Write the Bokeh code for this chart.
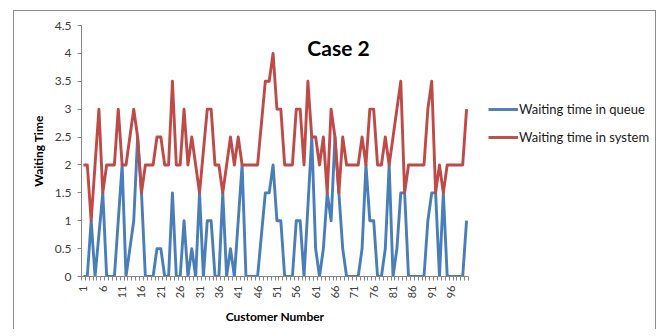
import math
from bokeh.plotting import figure
from bokeh.layouts import row
from bokeh.models import Range1d, FixedTicker, Legend, LegendItem, Label, ColumnDataSource
from bokeh.embed import file_html
from bokeh.resources import INLINE

# ---- data ----
customers = list(range(1, 101))
queue_time = [0, 0, 1, 0, 0.75, 1.5, 0, 0, 0, 1,
              2, 0, 0.5, 1, 2.5, 1.5, 0, 0, 0, 0.5,
              0.5, 0, 0, 1.5, 0, 0, 1, 0, 0.5, 0,
              1.5, 0, 1, 1, 0, 0, 1.5, 0, 0.5, 0,
              1, 2, 0, 0, 0, 0, 0.75, 1.5, 1.5, 2,
              1, 1, 0, 0, 0, 1, 1, 0, 1.25, 2.5,
              0.5, 0, 0.5, 1.5, 1, 2.5, 1.5, 0.5, 0, 0,
              0, 0, 0.5, 2, 1, 1, 0, 0, 0.5, 2,
              0, 0.5, 1.5, 1.5, 0, 0, 0, 0, 0, 1,
              1.5, 1.5, 0, 1.5, 0, 0, 0, 0, 0, 1]
system_time = [2, 2, 1, 2, 3, 1.5, 2, 2, 2, 3,
               2, 2, 2.5, 3, 2.5, 1.5, 2, 2, 2, 2.5,
               2.5, 2, 2, 3.5, 2, 2, 3, 2, 2.5, 2,
               1.5, 2.25, 3, 3, 2, 2, 1.5, 2, 2.5, 2,
               2.5, 2, 2, 2, 2, 2, 2.75, 3.5, 3.5, 4,
               3, 3, 2, 2, 2, 3, 3, 2, 3.5, 2.5,
               2.5, 2, 2.5, 1.5, 3, 2.5, 1.5, 2.5, 2, 2,
               2, 2, 2.5, 2, 3, 3, 2, 2, 2.5, 2,
               2.5, 3, 3.5, 1.5, 2, 2, 2, 2, 2, 3,
               3.5, 1.5, 2, 1.5, 2, 2, 2, 2, 2, 3]
x_tick_values = list(range(1, 101, 5))
x_tick_labels = [str(v) for v in x_tick_values]
y_tick_labels = ["0", "0.5", "1", "1.5", "2", "2.5", "3", "3.5", "4", "4.5"]
y_tick_values = [float(s) for s in y_tick_labels]
series_names = ["Waiting time in queue", "Waiting time in system"]
series_colors = ["#4A7EBB", "#BE4B48"]
title_text = "Case 2"
x_title = "Customer Number"
y_title = "Waiting Time"

FONT = "Lato"
AXIS_GRAY = "#868686"
LABEL_GRAY = "#404040"
H = 318

src = ColumnDataSource(dict(x=customers, q=queue_time, s=system_time))

p = figure(width=470, height=H, output_backend="svg", toolbar_location=None,
           x_range=Range1d(customers[0] - 0.5, customers[-1] + 0.5),
           y_range=Range1d(y_tick_values[0], y_tick_values[-1]),
           min_border_left=67, min_border_right=16, min_border_top=14, min_border_bottom=53)
p.outline_line_color = None
p.xgrid.visible = False
p.ygrid.visible = False
p.border_fill_color = "white"

line_kw = dict(line_width=2.9, line_join="round")
p.line("x", "q", source=src, line_color=series_colors[0], **line_kw)
p.line("x", "s", source=src, line_color=series_colors[1], **line_kw)

# x axis
boundaries = [c - 0.5 for c in customers] + [customers[-1] + 0.5]
p.xaxis.ticker = FixedTicker(ticks=x_tick_values, minor_ticks=boundaries)
p.xaxis.major_label_overrides = dict(zip(x_tick_values, x_tick_labels))
p.xaxis.major_label_orientation = math.pi / 2
p.xaxis.major_tick_line_color = None
p.xaxis.major_tick_out = 0
p.xaxis.major_tick_in = 0
p.xaxis.minor_tick_out = 4
p.xaxis.minor_tick_in = 0
p.xaxis.minor_tick_line_color = AXIS_GRAY
p.xaxis.axis_line_color = AXIS_GRAY
p.xaxis.major_label_standoff = 5
p.xaxis.major_label_text_font = FONT
p.xaxis.major_label_text_font_size = "11px"
p.xaxis.major_label_text_color = LABEL_GRAY
p.xaxis.axis_label = x_title
p.xaxis.axis_label_text_font = FONT
p.xaxis.axis_label_text_font_style = "bold"
p.xaxis.axis_label_text_font_size = "12px"
p.xaxis.axis_label_text_color = "black"
p.xaxis.axis_label_standoff = 8

# y axis
p.yaxis.ticker = FixedTicker(ticks=y_tick_values, minor_ticks=[])
p.yaxis.major_label_overrides = dict(zip(y_tick_values, y_tick_labels))
p.yaxis.major_tick_out = 4
p.yaxis.major_tick_in = 0
p.yaxis.major_tick_line_color = AXIS_GRAY
p.yaxis.minor_tick_line_color = None
p.yaxis.axis_line_color = AXIS_GRAY
p.yaxis.major_label_standoff = 6
p.yaxis.major_label_text_font = FONT
p.yaxis.major_label_text_font_size = "12px"
p.yaxis.major_label_text_color = LABEL_GRAY
p.yaxis.axis_label = y_title
p.yaxis.axis_label_text_font = FONT
p.yaxis.axis_label_text_font_style = "bold"
p.yaxis.axis_label_text_font_size = "12px"
p.yaxis.axis_label_text_color = "black"
p.yaxis.axis_label_standoff = 6

# chart title inside the chart area
p.add_layout(Label(x=257, y=229, x_units="screen", y_units="screen", text=title_text,
                   text_font=FONT, text_font_style="bold", text_font_size="21px",
                   text_align="center", text_baseline="alphabetic", text_color="black"))

# legend panel (separate figure; its lines lie outside its view, only the legend shows)
pl = figure(width=171, height=H, output_backend="svg", toolbar_location=None,
            x_axis_location=None, y_axis_location=None,
            x_range=Range1d(0, 1), y_range=Range1d(100, 101),
            min_border_left=0, min_border_right=0, min_border_top=0, min_border_bottom=0)
pl.outline_line_color = None
pl.xgrid.visible = False
pl.ygrid.visible = False
lq = pl.line(customers, queue_time, line_color=series_colors[0], **line_kw)
ls = pl.line(customers, system_time, line_color=series_colors[1], **line_kw)
legend = Legend(items=[LegendItem(label=series_names[0], renderers=[lq]),
                       LegendItem(label=series_names[1], renderers=[ls])],
                location=(4, 129), orientation="vertical",
                padding=0, margin=0, spacing=8, glyph_width=30, glyph_height=20,
                label_height=20, label_standoff=1,
                label_text_font=FONT, label_text_font_size="13px", label_text_color="#1a1a1a",
                border_line_color=None, background_fill_alpha=0)
pl.add_layout(legend)

layout = row(p, pl, styles={"margin-left": "13px", "margin-top": "10px",
                            "border-top": "1px solid #8c8c8c",
                            "border-left": "1px solid #8c8c8c",
                            "border-right": "1px solid #8c8c8c"})

open("out.html", "w").write(file_html(layout, INLINE))
